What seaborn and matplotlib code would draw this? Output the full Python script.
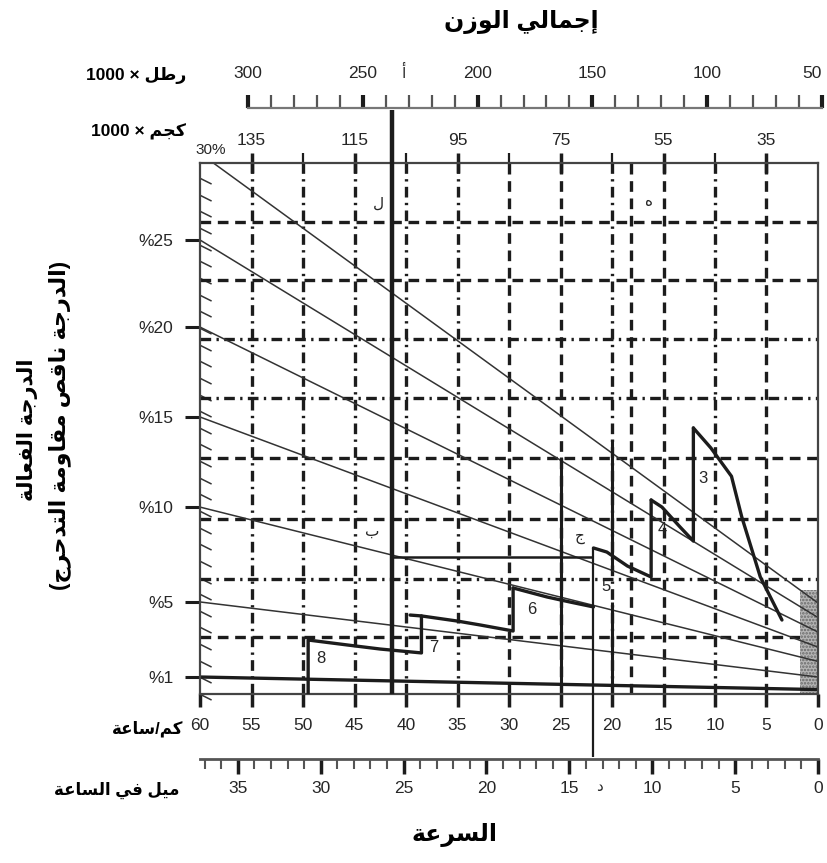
import re
import numpy as np
import pandas as pd
import matplotlib
matplotlib.use('Agg')
import matplotlib.pyplot as plt
from matplotlib.ticker import MultipleLocator, FixedLocator
from matplotlib.path import Path
import seaborn as sns

# ---------------- values ----------------
# x = speed (km/h), y = pull in box units (bottom of box 0, top 30)
grade_names = ['30%', '%25', '%20', '%15', '%10', '%5', '%1']
grade_left_kmh = [58.7, 60, 60, 60, 60, 60, 60]
grade_left_y = [30.0, 25.65, 20.73, 15.65, 10.56, 5.2, 0.96]
grade_right_y = [5.14, 4.32, 3.5, 2.65, 1.84, 0.96, 0.25]

grid_y = [26.67, 23.39, 20.06, 16.72, 13.33, 9.89, 6.5, 3.22]
grid_kmh = [55, 50, 45, 40, 35, 30, 25, 20, 18.2, 15, 10, 5]

# gear curves (with the vertical shift steps)
g8_kmh = [49.5, 49.5, 45.7, 42.5, 38.5, 38.5]
g8_y = [0.0, 3.05, 2.77, 2.54, 2.32, 4.41]
g7_kmh = [39.6, 38.5, 35.0, 32.8, 29.6, 29.6]
g7_y = [4.46, 4.41, 4.12, 3.9, 3.56, 5.99]
g6_kmh = [29.6, 26.3, 24.1, 21.8]
g6_y = [5.99, 5.48, 5.2, 4.92]
g5_kmh = [21.8, 20.5, 18.5, 16.2, 16.2]
g5_y = [8.25, 8.02, 7.23, 6.61, 10.96]
g4_kmh = [16.2, 15.15, 13.4, 12.1, 12.1]
g4_y = [10.96, 10.56, 9.44, 8.64, 15.03]
g3_kmh = [12.1, 10.4, 8.4, 7.4, 5.6, 3.5]
g3_y = [15.03, 13.9, 12.3, 10.0, 6.61, 4.18]
gear_names = ['8', '7', '6', '5', '4', '3']
gear_label_kmh = [48.3, 37.3, 27.8, 20.6, 15.15, 11.2]
gear_label_y = [1.98, 2.6, 4.75, 6.05, 9.27, 12.2]

# solid helper lines
solid_kmh = [25.0, 20.0, 20.0]
solid_lo = [0.34, 0.34, 7.0]
solid_hi = [13.39, 5.2, 14.35]
point_l_kmh, point_l_top = 41.36, 33.0      # line from point A down
point_b_y = 7.74                              # horizontal at B
point_d_kmh, point_d_lo, point_d_hi = 21.84, -3.56, 8.25
shade_kmh, shade_top = 1.75, 5.9

kmh_ticks = [60, 55, 50, 45, 40, 35, 30, 25, 20, 15, 10, 5, 0]
kg_major = [135, 115, 95, 75, 55, 35]
kg_minor = [125, 105, 85, 65, 45]
lb_major = [300, 250, 200, 150, 100, 50]
lb_range = (300, 50)

# ---------------- simple arabic shaping ----------------
FORMS = {
    'أ': ('\uFE83', '\uFE84', None, None), 'إ': ('\uFE87', '\uFE88', None, None),
    'ا': ('\uFE8D', '\uFE8E', None, None), 'ب': ('\uFE8F', '\uFE90', '\uFE91', '\uFE92'),
    'ة': ('\uFE93', '\uFE94', None, None), 'ت': ('\uFE95', '\uFE96', '\uFE97', '\uFE98'),
    'ج': ('\uFE9D', '\uFE9E', '\uFE9F', '\uFEA0'), 'ح': ('\uFEA1', '\uFEA2', '\uFEA3', '\uFEA4'),
    'د': ('\uFEA9', '\uFEAA', None, None), 'ر': ('\uFEAD', '\uFEAE', None, None),
    'ز': ('\uFEAF', '\uFEB0', None, None), 'س': ('\uFEB1', '\uFEB2', '\uFEB3', '\uFEB4'),
    'ص': ('\uFEB9', '\uFEBA', '\uFEBB', '\uFEBC'), 'ط': ('\uFEC1', '\uFEC2', '\uFEC3', '\uFEC4'),
    'ع': ('\uFEC9', '\uFECA', '\uFECB', '\uFECC'), 'ف': ('\uFED1', '\uFED2', '\uFED3', '\uFED4'),
    'ق': ('\uFED5', '\uFED6', '\uFED7', '\uFED8'), 'ك': ('\uFED9', '\uFEDA', '\uFEDB', '\uFEDC'),
    'ل': ('\uFEDD', '\uFEDE', '\uFEDF', '\uFEE0'), 'م': ('\uFEE1', '\uFEE2', '\uFEE3', '\uFEE4'),
    'ن': ('\uFEE5', '\uFEE6', '\uFEE7', '\uFEE8'), 'ه': ('\uFEE9', '\uFEEA', '\uFEEB', '\uFEEC'),
    'و': ('\uFEED', '\uFEEE', None, None), 'ي': ('\uFEF1', '\uFEF2', '\uFEF3', '\uFEF4'),
}


def shape(text):
    out = []
    for i, ch in enumerate(text):
        if ch not in FORMS:
            out.append(ch)
            continue
        prev = text[i - 1] if i > 0 else ''
        nxt = text[i + 1] if i + 1 < len(text) else ''
        jp = prev in FORMS and FORMS[prev][2] is not None
        jn = nxt in FORMS and FORMS[ch][2] is not None
        iso, fin, ini, med = FORMS[ch]
        out.append(med if (jp and jn) else fin if jp else ini if jn else iso)
    return ''.join(out)


def ar(text):
    s = shape(text)[::-1].translate(str.maketrans('()', ')('))
    return re.sub(r'[0-9A-Za-z.%]+', lambda m: m.group()[::-1], s)


# ---------------- figure ----------------
sns.set_theme(style='ticks')
plt.rcParams['font.family'] = ['Liberation Sans', 'DejaVu Sans']
plt.rcParams['hatch.linewidth'] = 1.2
ink = '#1c1c1c'
W, H = 828, 863


def box(x0, y0, x1, y1):
    return [x0 / W, 1 - y1 / H, (x1 - x0) / W, (y1 - y0) / H]


fig = plt.figure(figsize=(8.28, 8.63), dpi=100)
ax = fig.add_axes(box(200, 163, 818, 694))
ax.set_xlim(60, 0)
ax.set_ylim(0, 30)
for s in ax.spines.values():
    s.set_color('#444444')
    s.set_linewidth(1.6)

DASH = (0, (3.2, 2.0))
DASHDOT = (0, (3.2, 1.6, 0.7, 1.6))
h_styles = [DASH, DASH, DASHDOT, DASHDOT, DASH, DASH, DASHDOT, DASH]
v_styles = [DASHDOT, DASHDOT, DASHDOT, DASHDOT, DASHDOT, DASH, DASH, DASHDOT,
            DASH, DASH, DASHDOT, DASH]
for yv, st in zip(grid_y, h_styles):
    ax.axhline(yv, color=ink, lw=2.4, ls=st, zorder=1)
for xv, st in zip(grid_kmh, v_styles):
    ax.axvline(xv, color=ink, lw=2.4, ls=st, zorder=1)

# grade lines
diag = pd.DataFrame({
    'grade': grade_names * 2,
    'kmh': grade_left_kmh + [0] * len(grade_names),
    'y': grade_left_y + grade_right_y,
})
sns.lineplot(data=diag[diag.grade != '%1'], x='kmh', y='y', units='grade',
             estimator=None, sort=False, color='#333333', lw=1.1, ax=ax,
             legend=False, zorder=2)
sns.lineplot(data=diag[diag.grade == '%1'], x='kmh', y='y', units='grade',
             estimator=None, sort=False, color=ink, lw=2.4, ax=ax,
             legend=False, zorder=2)

ax.fill_between([0, shade_kmh], 0, shade_top, facecolor='#b5b5b5',
                edgecolor='#6a6a6a', hatch='.....', lw=0, zorder=1.5)

# gear curves
gears = pd.concat([
    pd.DataFrame({'gear': g, 'kmh': xs, 'y': ys})
    for g, xs, ys in zip(gear_names,
                         [g8_kmh, g7_kmh, g6_kmh, g5_kmh, g4_kmh, g3_kmh],
                         [g8_y, g7_y, g6_y, g5_y, g4_y, g3_y])
], ignore_index=True)
sns.lineplot(data=gears, x='kmh', y='y', units='gear', estimator=None,
             sort=False, color=ink, lw=2.4, ax=ax, legend=False, zorder=4)
for name, gx, gy in zip(gear_names, gear_label_kmh, gear_label_y):
    ax.text(gx, gy, name, fontsize=12, ha='center', va='center', zorder=5)

ax.vlines(solid_kmh, solid_lo, solid_hi, color=ink, lw=2.2, zorder=3)
ax.vlines(point_l_kmh, 0, point_l_top, color=ink, lw=3.2, zorder=4, clip_on=False)
ax.hlines(point_b_y, point_d_kmh, point_l_kmh, color=ink, lw=1.8, zorder=4)
ax.vlines(point_d_kmh, point_d_lo, point_d_hi, color=ink, lw=1.6, zorder=4,
          clip_on=False)

# letter marks
for txt, x, y in [('ل', 42.7, 27.7), ('ب', 43.3, 9.15), ('ج', 23.1, 8.87),
                  ('ه', 16.4, 27.8), ('أ', 40.3, 35.1), ('د', 21.26, -5.25)]:
    ax.text(x, y, ar(txt), fontsize=11, ha='center', va='center',
            clip_on=False, zorder=5)
ax.text(59.0, 30.35, '30%', fontsize=11, ha='center', va='bottom', clip_on=False)

# left axis: grade ticks and hatches
ax.set_yticks(grade_left_y[1:], grade_names[1:])
ax.yaxis.set_minor_locator(MultipleLocator(0.94))
ax.tick_params(axis='y', which='major', direction='out', length=11, width=2.2,
               pad=8, labelsize=12.5, color=ink, right=False)
ax.tick_params(axis='y', which='minor', direction='in', length=16, width=1.1,
               color='#333333', right=False)
slant = Path([(0, 0), (1, -0.5)])
for tl in ax.yaxis.get_minorticklines():
    tl.set_marker(slant)
ax.set_ylabel('')

# bottom axis km/h
ax.set_xticks(kmh_ticks, [str(v) for v in kmh_ticks])
ax.tick_params(axis='x', which='major', direction='out', length=9, width=2.5,
               pad=8, labelsize=12.5, color=ink, top=False)
ax.set_xlabel('')

# top kg axis (tied to the grid)
kg = ax.secondary_xaxis('top', functions=(lambda v: 25 + 2 * v,
                                          lambda t: (t - 25) / 2))
kg.set_xticks(kg_major, [str(v) for v in kg_major])
kg.xaxis.set_minor_locator(FixedLocator(kg_minor))
kg.tick_params(which='major', direction='inout', length=15, width=2.5,
               pad=3, labelsize=12.5, color=ink)
kg.tick_params(which='minor', direction='out', length=7, width=1.6, color=ink)
kg.spines['top'].set_visible(False)

# lb axis
axw = fig.add_axes(box(248, 95, 822, 108))
axw.set_xlim(*lb_range)
axw.set_ylim(0, 1)
axw.set_facecolor('none')
for s in ['top', 'left', 'right']:
    axw.spines[s].set_visible(False)
axw.spines['bottom'].set_color('#777777')
axw.spines['bottom'].set_linewidth(1.6)
axw.set_yticks([])
axw.set_xticks(lb_major, [str(v) for v in lb_major])
axw.xaxis.set_minor_locator(MultipleLocator(10))
axw.tick_params(axis='x', which='both', direction='in', length=9.5,
                bottom=True, top=False, labelbottom=False, labeltop=True,
                pad=10, labelsize=12.5, color=ink)
axw.tick_params(axis='x', which='major', width=3)
axw.tick_params(axis='x', which='minor', width=1.6, color='#555555')
axw.xaxis.get_major_ticks()[-1].label2.set_horizontalalignment('right')

# mph axis
axm = fig.add_axes(box(200, 758, 818, 759))
axm.set_xlim(60 / 1.609344, 0)
axm.set_facecolor('none')
for s in ['top', 'left', 'right']:
    axm.spines[s].set_visible(False)
axm.spines['bottom'].set_color('#555555')
axm.spines['bottom'].set_linewidth(2)
axm.set_yticks([])
axm.xaxis.set_major_locator(MultipleLocator(5))
axm.xaxis.set_minor_locator(MultipleLocator(1))
axm.tick_params(axis='x', which='major', direction='out', length=11, width=2.5,
                pad=5, labelsize=12.5, color=ink)
axm.tick_params(axis='x', which='minor', direction='out', length=7, width=1.5,
                color='#555555')

# titles and unit labels
bold = dict(fontweight='bold', color='black')
fig.text(521 / W, 1 - 22 / H, ar('إجمالي الوزن'), ha='center', va='center',
         fontsize=17, **bold)
fig.text(455 / W, 1 - 835 / H, ar('السرعة'), ha='center', va='center',
         fontsize=17, **bold)
fig.text(28 / W, 1 - 430 / H, ar('الدرجة الفعالة'), rotation=90, ha='center',
         va='center', fontsize=15, **bold)
fig.text(60 / W, 1 - 425 / H, ar('(الدرجة ناقص مقاومة التدحرج)'), rotation=90,
         ha='center', va='center', fontsize=16, **bold)
fig.text(186 / W, 1 - 75 / H, ar('رطل × 1000'), ha='right', va='center',
         fontsize=12.5, **bold)
fig.text(186 / W, 1 - 132 / H, ar('كجم × 1000'), ha='right', va='center',
         fontsize=12.5, **bold)
fig.text(183 / W, 1 - 729 / H, ar('كم/ساعة'), ha='right', va='center',
         fontsize=12, **bold)
fig.text(180 / W, 1 - 790 / H, ar('ميل في الساعة'), ha='right', va='center',
         fontsize=12, **bold)

fig.savefig('out.png', dpi=100)
